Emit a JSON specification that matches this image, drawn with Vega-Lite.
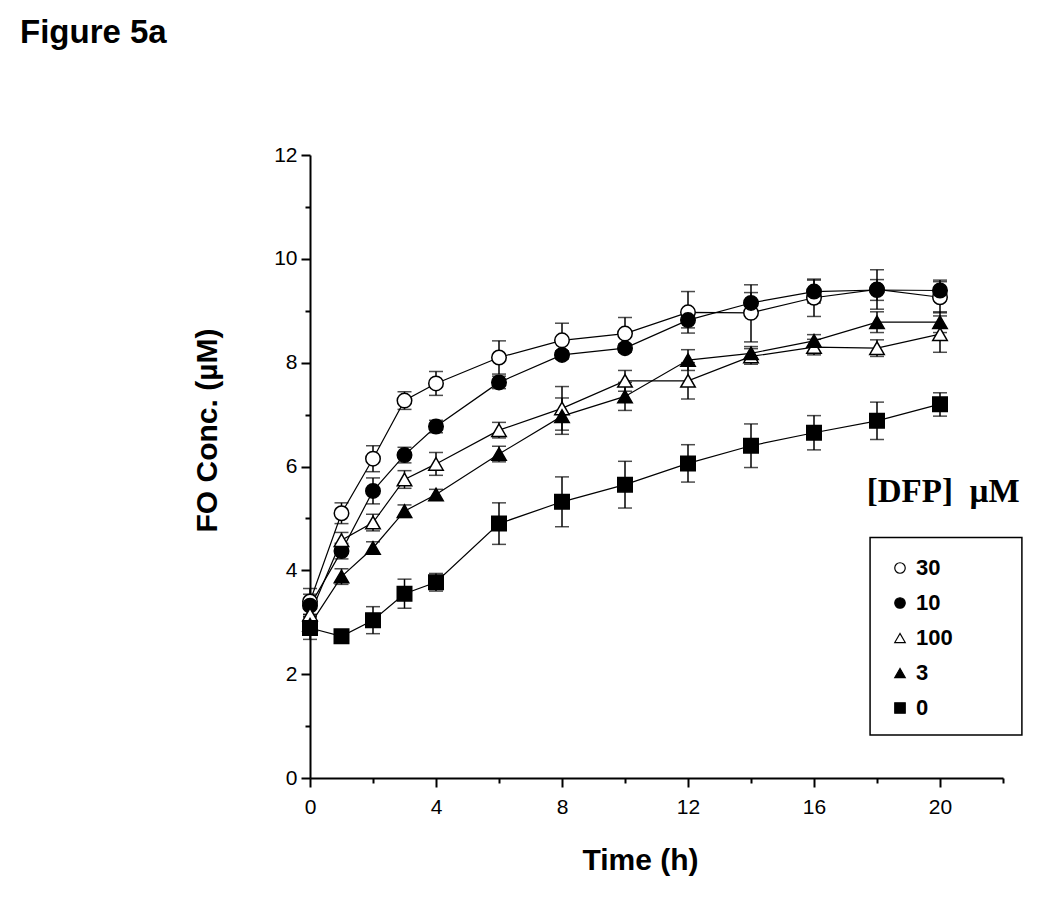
{
  "$schema": "https://vega.github.io/schema/vega-lite/v6.json",
  "width": 693,
  "height": 623,
  "autosize": "none",
  "padding": {"left": 310, "top": 155, "right": 47, "bottom": 127},
  "background": "white",
  "title": {"text": "Figure 5a", "anchor": "start", "frame": "group", "dx": -290, "offset": 68, "baseline": "alphabetic", "fontSize": 33, "fontWeight": "bold", "font": "Liberation Sans", "color": "black"},
  "config": {"view": {"stroke": null}, "axis": {"grid": false, "domainColor": "black", "tickColor": "black", "labelColor": "black", "titleColor": "black"},
    "legend": {"symbolSize": 110, "symbolStrokeWidth": 1.2, "labelFontSize": 22, "labelFont": "Liberation Sans", "labelFontWeight": "bold", "labelColor": "black", "labelOffset": 5, "rowPadding": 13, "padding": 19, "symbolOffset": 0}},
  "data": {"values": [
    {"dfp":"30","t":0,"c":3.40,"lo":3.15,"hi":3.65},
    {"dfp":"30","t":1,"c":5.10,"lo":4.90,"hi":5.30},
    {"dfp":"30","t":2,"c":6.15,"lo":5.90,"hi":6.40},
    {"dfp":"30","t":3,"c":7.27,"lo":7.10,"hi":7.44},
    {"dfp":"30","t":4,"c":7.60,"lo":7.37,"hi":7.83},
    {"dfp":"30","t":6,"c":8.10,"lo":7.78,"hi":8.42},
    {"dfp":"30","t":8,"c":8.43,"lo":8.10,"hi":8.76},
    {"dfp":"30","t":10,"c":8.56,"lo":8.25,"hi":8.87},
    {"dfp":"30","t":12,"c":8.97,"lo":8.57,"hi":9.37},
    {"dfp":"30","t":14,"c":8.96,"lo":8.40,"hi":9.50},
    {"dfp":"30","t":16,"c":9.25,"lo":8.89,"hi":9.61},
    {"dfp":"30","t":18,"c":9.41,"lo":9.03,"hi":9.79},
    {"dfp":"30","t":20,"c":9.26,"lo":8.96,"hi":9.56},
    {"dfp":"10","t":0,"c":3.32,"lo":3.10,"hi":3.54},
    {"dfp":"10","t":1,"c":4.37,"lo":4.22,"hi":4.52},
    {"dfp":"10","t":2,"c":5.53,"lo":5.28,"hi":5.78},
    {"dfp":"10","t":3,"c":6.22,"lo":6.07,"hi":6.37},
    {"dfp":"10","t":4,"c":6.77,"lo":6.65,"hi":6.89},
    {"dfp":"10","t":6,"c":7.62,"lo":7.50,"hi":7.74},
    {"dfp":"10","t":8,"c":8.15,"lo":8.07,"hi":8.23},
    {"dfp":"10","t":10,"c":8.28,"lo":8.20,"hi":8.36},
    {"dfp":"10","t":12,"c":8.82,"lo":8.67,"hi":8.97},
    {"dfp":"10","t":14,"c":9.15,"lo":8.95,"hi":9.35},
    {"dfp":"10","t":16,"c":9.37,"lo":9.15,"hi":9.59},
    {"dfp":"10","t":18,"c":9.40,"lo":9.20,"hi":9.60},
    {"dfp":"10","t":20,"c":9.39,"lo":9.19,"hi":9.59},
    {"dfp":"100","t":0,"c":3.15,"lo":2.95,"hi":3.35},
    {"dfp":"100","t":1,"c":4.58,"lo":4.43,"hi":4.73},
    {"dfp":"100","t":2,"c":4.92,"lo":4.76,"hi":5.08},
    {"dfp":"100","t":3,"c":5.75,"lo":5.58,"hi":5.92},
    {"dfp":"100","t":4,"c":6.05,"lo":5.83,"hi":6.27},
    {"dfp":"100","t":6,"c":6.70,"lo":6.55,"hi":6.85},
    {"dfp":"100","t":8,"c":7.12,"lo":6.70,"hi":7.54},
    {"dfp":"100","t":10,"c":7.65,"lo":7.45,"hi":7.85},
    {"dfp":"100","t":12,"c":7.65,"lo":7.30,"hi":8.00},
    {"dfp":"100","t":14,"c":8.12,"lo":7.97,"hi":8.27},
    {"dfp":"100","t":16,"c":8.30,"lo":8.15,"hi":8.45},
    {"dfp":"100","t":18,"c":8.28,"lo":8.12,"hi":8.44},
    {"dfp":"100","t":20,"c":8.55,"lo":8.20,"hi":8.90},
    {"dfp":"3","t":0,"c":2.95,"lo":2.75,"hi":3.15},
    {"dfp":"3","t":1,"c":3.88,"lo":3.73,"hi":4.03},
    {"dfp":"3","t":2,"c":4.43,"lo":4.31,"hi":4.55},
    {"dfp":"3","t":3,"c":5.14,"lo":5.02,"hi":5.26},
    {"dfp":"3","t":4,"c":5.46,"lo":5.36,"hi":5.56},
    {"dfp":"3","t":6,"c":6.24,"lo":6.09,"hi":6.39},
    {"dfp":"3","t":8,"c":6.97,"lo":6.62,"hi":7.32},
    {"dfp":"3","t":10,"c":7.35,"lo":7.08,"hi":7.62},
    {"dfp":"3","t":12,"c":8.05,"lo":7.85,"hi":8.25},
    {"dfp":"3","t":14,"c":8.18,"lo":8.05,"hi":8.31},
    {"dfp":"3","t":16,"c":8.42,"lo":8.30,"hi":8.54},
    {"dfp":"3","t":18,"c":8.78,"lo":8.58,"hi":8.98},
    {"dfp":"3","t":20,"c":8.78,"lo":8.58,"hi":8.98},
    {"dfp":"0","t":0,"c":2.89,"lo":2.67,"hi":3.11},
    {"dfp":"0","t":1,"c":2.73,"lo":2.65,"hi":2.81},
    {"dfp":"0","t":2,"c":3.04,"lo":2.78,"hi":3.30},
    {"dfp":"0","t":3,"c":3.55,"lo":3.27,"hi":3.83},
    {"dfp":"0","t":4,"c":3.77,"lo":3.60,"hi":3.94},
    {"dfp":"0","t":6,"c":4.90,"lo":4.50,"hi":5.30},
    {"dfp":"0","t":8,"c":5.32,"lo":4.84,"hi":5.80},
    {"dfp":"0","t":10,"c":5.65,"lo":5.20,"hi":6.10},
    {"dfp":"0","t":12,"c":6.06,"lo":5.70,"hi":6.42},
    {"dfp":"0","t":14,"c":6.40,"lo":5.98,"hi":6.82},
    {"dfp":"0","t":16,"c":6.65,"lo":6.32,"hi":6.98},
    {"dfp":"0","t":18,"c":6.88,"lo":6.52,"hi":7.24},
    {"dfp":"0","t":20,"c":7.20,"lo":6.97,"hi":7.42}
  ]},
  "resolve": {"axis": {"x": "independent", "y": "independent"}},
  "layer": [
    {
      "mark": {"type": "line", "color": "black", "strokeWidth": 1.2},
      "encoding": {
        "x": {"field": "t", "type": "quantitative", "scale": {"domain": [0, 22], "nice": false, "zero": false},
          "axis": {"orient": "bottom", "values": [0, 4, 8, 12, 16, 20], "tickSize": 9, "tickWidth": 2, "domainWidth": 2, "labelFontSize": 21, "labelFont": "Liberation Sans", "labelPadding": 9, "labelFlush": false,
            "title": "Time (h)", "titleFont": "Liberation Sans", "titleFontSize": 30, "titleFontWeight": "bold", "titleX": 330, "titleY": 82, "titleBaseline": "middle", "titleAlign": "center"}},
        "y": {"field": "c", "type": "quantitative", "scale": {"domain": [0, 12], "nice": false},
          "axis": {"orient": "left", "values": [0, 2, 4, 6, 8, 10, 12], "tickSize": 9, "tickWidth": 2, "domainWidth": 2, "labelFontSize": 21, "labelFont": "Liberation Sans", "labelPadding": 4, "labelFlush": false,
            "title": "FO Conc. (µM)", "titleFont": "Liberation Sans", "titleFontSize": 30, "titleFontWeight": "bold", "titleX": -103, "titleY": 275, "titleAngle": -90, "titleBaseline": "middle", "titleAlign": "center"}},
        "detail": {"field": "dfp", "type": "nominal"}
      }
    },
    {
      "mark": {"type": "rule", "color": "black", "strokeWidth": 1.5},
      "encoding": {
        "x": {"field": "t", "type": "quantitative",
          "axis": {"orient": "bottom", "values": [2, 6, 10, 14, 18, 22], "tickSize": 5, "tickWidth": 2, "domain": false, "labels": false, "title": null}},
        "y": {"field": "lo", "type": "quantitative",
          "axis": {"orient": "left", "values": [1, 3, 5, 7, 9, 11], "tickSize": 5, "tickWidth": 2, "domain": false, "labels": false, "title": null}},
        "y2": {"field": "hi"}
      }
    },
    {
      "mark": {"type": "tick", "orient": "horizontal", "color": "black", "size": 14, "thickness": 1.5},
      "encoding": {
        "x": {"field": "t", "type": "quantitative", "axis": null},
        "y": {"field": "lo", "type": "quantitative", "axis": null}
      }
    },
    {
      "mark": {"type": "tick", "orient": "horizontal", "color": "black", "size": 14, "thickness": 1.5},
      "encoding": {
        "x": {"field": "t", "type": "quantitative", "axis": null},
        "y": {"field": "hi", "type": "quantitative", "axis": null}
      }
    },
    {
      "mark": {"type": "point", "filled": true, "strokeWidth": 1.5, "size": 210, "opacity": 1},
      "encoding": {
        "x": {"field": "t", "type": "quantitative", "axis": null},
        "y": {"field": "c", "type": "quantitative", "axis": null},
        "shape": {"field": "dfp", "type": "nominal", "scale": {"domain": ["30", "10", "100", "3", "0"], "range": ["circle", "circle", "triangle-up", "triangle-up", "square"]},
          "legend": {"title": null, "orient": "none", "legendX": 560, "legendY": 383}},
        "fill": {"field": "dfp", "type": "nominal", "scale": {"domain": ["30", "10", "100", "3", "0"], "range": ["white", "black", "white", "black", "black"]},
          "legend": {"title": null, "orient": "none", "legendX": 560, "legendY": 383}},
        "stroke": {"field": "dfp", "type": "nominal", "scale": {"domain": ["30", "10", "100", "3", "0"], "range": ["black", "black", "black", "black", "black"]},
          "legend": {"title": null, "orient": "none", "legendX": 560, "legendY": 383}}
      }
    },
    {
      "data": {"values": [{}]},
      "mark": {"type": "rect", "fill": null, "fillOpacity": 0, "stroke": "black", "strokeWidth": 1.5, "clip": false},
      "encoding": {
        "x": {"datum": 17.78, "type": "quantitative", "axis": null},
        "x2": {"datum": 22.6},
        "y": {"datum": 4.633, "type": "quantitative", "axis": null},
        "y2": {"datum": 0.83}
      }
    },
    {
      "data": {"values": [{}]},
      "mark": {"type": "text", "text": "[DFP]\u00a0\u00a0µM", "font": "Liberation Serif", "fontWeight": "bold", "fontSize": 33, "color": "black", "align": "center", "baseline": "middle", "clip": false},
      "encoding": {
        "x": {"datum": 20.1, "type": "quantitative", "axis": null},
        "y": {"datum": 5.5, "type": "quantitative", "axis": null}
      }
    }
  ]
}
